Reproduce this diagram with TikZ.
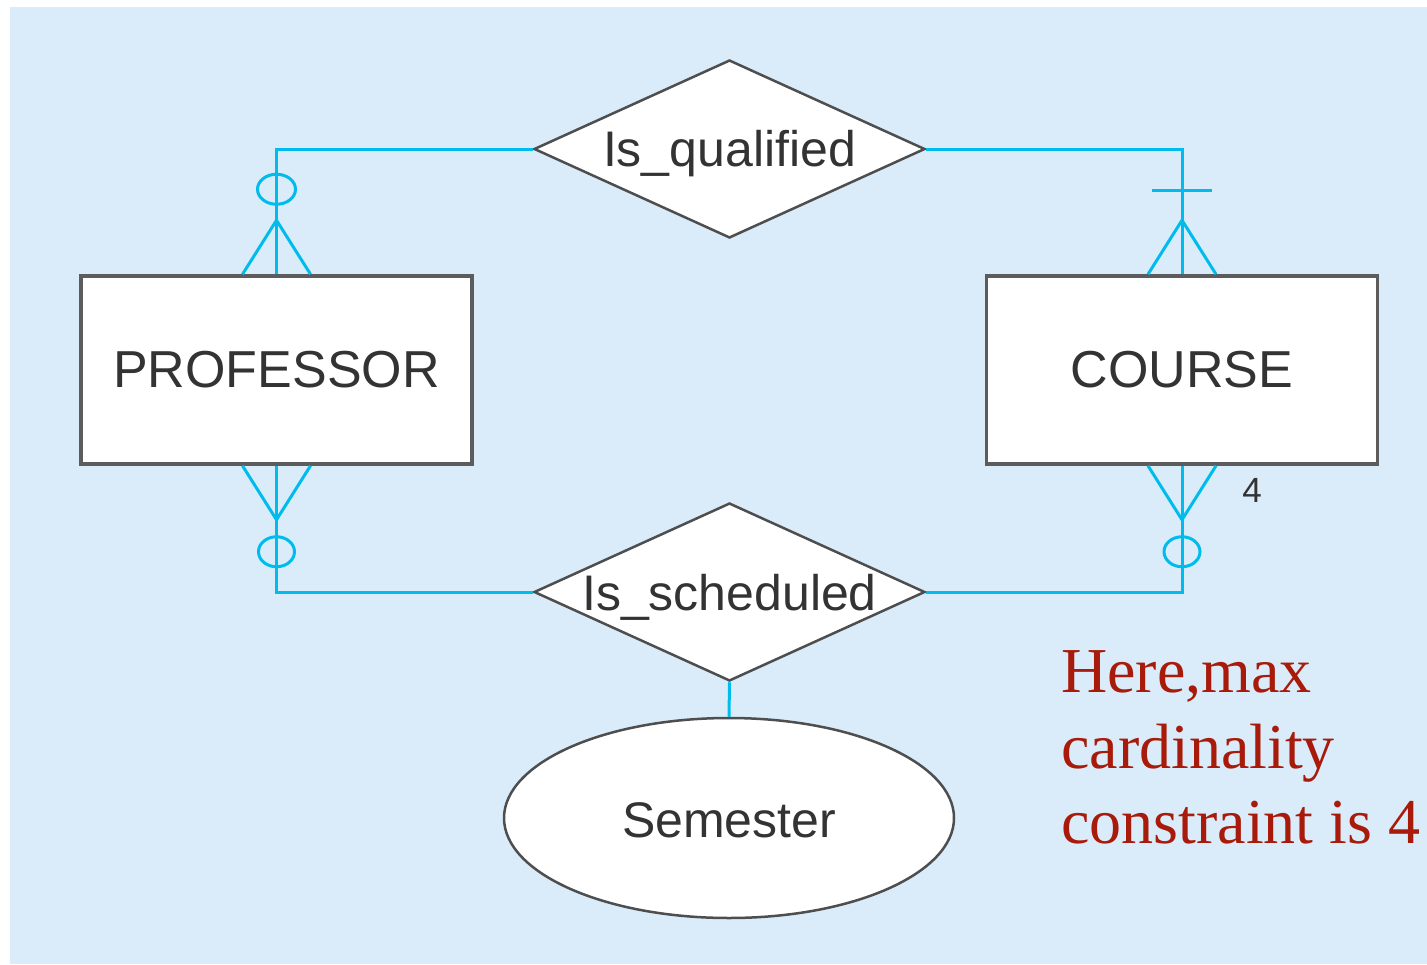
\documentclass[tikz,border=0pt]{standalone}
\usepackage{fontspec}
\usetikzlibrary{shapes.geometric,calc}
\newfontfamily\labelfont{Liberation Sans}
\newfontfamily\notefont{Liberation Serif}
\definecolor{panel}{HTML}{DAECFA}
\definecolor{link}{HTML}{00BCEC}
\definecolor{edgegray}{HTML}{5C5C5C}
\definecolor{textgray}{HTML}{333333}
\definecolor{notered}{HTML}{A81A0A}
% lower a label without changing the box it declares
\newcommand{\lowered}[2]{\raisebox{-#1}[\height][\depth]{#2}}
\tikzset{
  entity/.style={draw=edgegray, line width=3.5pt, fill=white, rectangle,
    minimum width=391pt, minimum height=188pt, inner sep=0pt,
    text=textgray, font=\labelfont\fontsize{52}{60}\selectfont},
  relation/.style={draw=edgegray!85!black, line width=2.5pt, fill=white, diamond,
    shape aspect=2.2, minimum width=391pt, minimum height=178pt,
    inner xsep=-60pt, inner ysep=-20pt,
    text=textgray, font=\labelfont\fontsize{50}{60}\selectfont},
  attribute/.style={draw=edgegray!85!black, line width=2.5pt, fill=white, ellipse,
    minimum width=450pt, minimum height=200pt, inner sep=0pt,
    text=textgray, font=\labelfont\fontsize{50}{60}\selectfont},
  conn/.style={draw=link, line width=3pt},
  note/.style={anchor=base west, inner sep=0pt, text=notered,
    font=\notefont\fontsize{64}{76}\selectfont},
}
\begin{document}
\begin{tikzpicture}[x=1pt,y=-1pt]
  \useasboundingbox (0,0) rectangle (1427,964);
  \fill[white] (0,0) rectangle (1427,964);
  \fill[panel] (10,7) rectangle (1427,964);

  % entities, relationships, attribute
  \node[entity] (prof) at (276.5,370) {PROFESSOR};
  \node[entity] (course) at (1182,370) {COURSE};
  \node[relation] (qual) at (729.5,149) {\lowered{5pt}{Is\_qualified}};
  \node[relation] (sched) at (729.5,592) {\lowered{5pt}{Is\_scheduled}};
  \node[attribute] (sem) at (729,818) {\lowered{2pt}{Semester}};

  % connectors
  \draw[conn] (qual.west) -| (prof.north);
  \draw[conn] (qual.east) -| (course.north);
  \draw[conn] (sched.west) -| (prof.south);
  \draw[conn] (sched.east) -| (course.south);
  \draw[conn] (sched.south) -- (sem.north);

  % cardinality marks: PROFESSOR -- Is_qualified (optional, many)
  \coordinate (pqa) at ($(prof.north)+(0,-54)$);
  \draw[conn] ($(prof.north)+(-34,0)$) -- (pqa) -- ($(prof.north)+(34,0)$);
  \draw[conn] ($(prof.north)+(0,-85)$) ellipse [x radius=19pt, y radius=15pt];

  % COURSE -- Is_qualified (mandatory, many)
  \coordinate (cqa) at ($(course.north)+(0,-54)$);
  \draw[conn] ($(course.north)+(-34,0)$) -- (cqa) -- ($(course.north)+(34,0)$);
  \draw[conn] ($(course.north)+(-30,-84)$) -- ($(course.north)+(30,-84)$);

  % PROFESSOR -- Is_scheduled (optional, many)
  \coordinate (psa) at ($(prof.south)+(0,54)$);
  \draw[conn] ($(prof.south)+(-34,0)$) -- (psa) -- ($(prof.south)+(34,0)$);
  \draw[conn] ($(prof.south)+(0,86)$) ellipse [x radius=18pt, y radius=15pt];

  % COURSE -- Is_scheduled (optional, many, max 4)
  \coordinate (csa) at ($(course.south)+(0,54)$);
  \draw[conn] ($(course.south)+(-34,0)$) -- (csa) -- ($(course.south)+(34,0)$);
  \draw[conn] ($(course.south)+(0,86)$) ellipse [x radius=18pt, y radius=15pt];
  \node[text=textgray, font=\labelfont\fontsize{35}{40}\selectfont, inner sep=0pt]
    (maxfour) at (1252,490) {4};

  % annotation
  \node[note] (note1) at (1061,692) {Here,max};
  \node[note] (note2) at (1061,768) {cardinality};
  \node[note] (note3) at (1061,843) {constraint is 4};
\end{tikzpicture}
\end{document}
